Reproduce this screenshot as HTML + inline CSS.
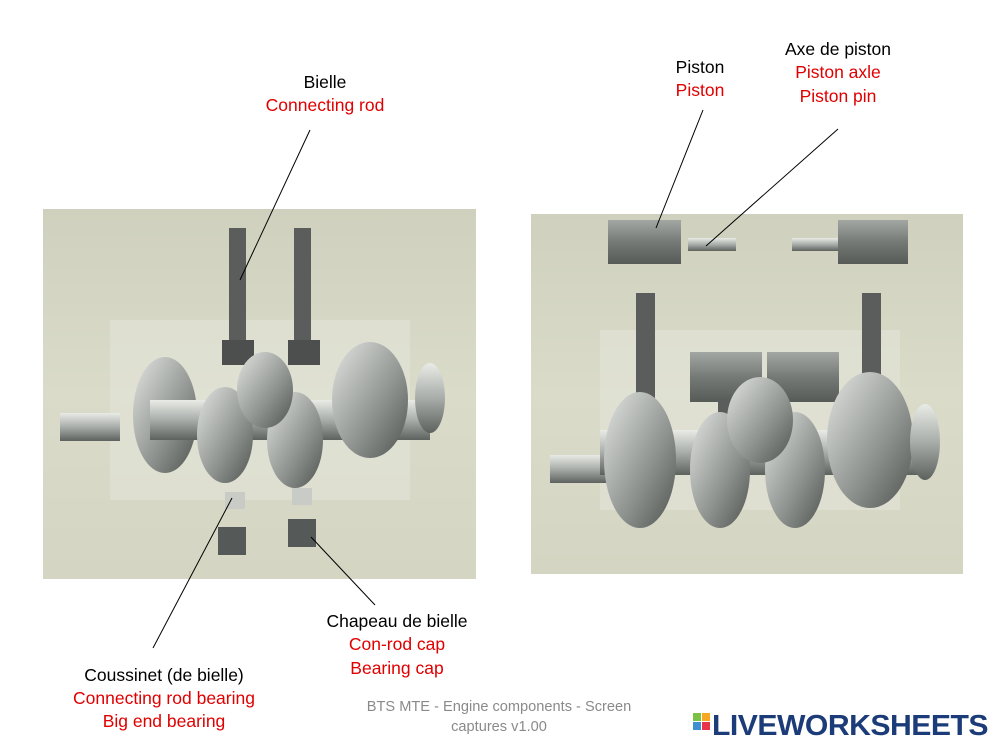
<!DOCTYPE html>
<html><head><meta charset="utf-8"><style>
html,body{margin:0;padding:0;background:#fff;}
svg{display:block;}
text{font-family:"Liberation Sans",sans-serif;font-size:17.5px;}
</style></head><body>
<svg width="1000" height="750" viewBox="0 0 1000 750" xmlns="http://www.w3.org/2000/svg">
<defs>
<linearGradient id="bg" x1="0" y1="0" x2="0" y2="1"><stop offset="0" stop-color="#cfd1be"/><stop offset="0.5" stop-color="#dadbc9"/><stop offset="1" stop-color="#d4d5c2"/></linearGradient>
<linearGradient id="metal" x1="0" y1="0" x2="0" y2="1"><stop offset="0" stop-color="#e8ebe6"/><stop offset="0.5" stop-color="#a9ada9"/><stop offset="1" stop-color="#5e625f"/></linearGradient>
<linearGradient id="web" x1="0" y1="0" x2="1" y2="1"><stop offset="0" stop-color="#e2e5e2"/><stop offset="0.6" stop-color="#8d918e"/><stop offset="1" stop-color="#4f5350"/></linearGradient>
<linearGradient id="pist" x1="0" y1="0" x2="0" y2="1"><stop offset="0" stop-color="#a3a7a3"/><stop offset="0.5" stop-color="#767a76"/><stop offset="1" stop-color="#575b58"/></linearGradient>
</defs>
<rect x="43" y="209" width="433" height="370" fill="url(#bg)"/>
<rect x="110" y="320" width="300" height="180" fill="#e3e4d8" opacity="0.6"/>
<rect x="229" y="228" width="17" height="125" fill="#5a5d5b"/>
<rect x="222" y="340" width="32" height="25" fill="#4c4f4d"/>
<rect x="294" y="228" width="17" height="125" fill="#5a5d5b"/>
<rect x="288" y="340" width="32" height="25" fill="#4c4f4d"/>
<rect x="60" y="413" width="60" height="28" fill="url(#metal)"/>
<ellipse cx="165" cy="415" rx="32" ry="58" fill="url(#web)"/>
<rect x="150" y="400" width="280" height="40" fill="url(#metal)"/>
<ellipse cx="225" cy="435" rx="28" ry="48" fill="url(#web)"/>
<ellipse cx="295" cy="440" rx="28" ry="48" fill="url(#web)"/>
<ellipse cx="265" cy="390" rx="28" ry="38" fill="url(#web)"/>
<ellipse cx="370" cy="400" rx="38" ry="58" fill="url(#web)"/>
<ellipse cx="430" cy="398" rx="15" ry="35" fill="url(#metal)"/>
<rect x="225" y="492" width="20" height="17" fill="#c8cbc6"/>
<rect x="292" y="488" width="20" height="17" fill="#c8cbc6"/>
<rect x="218" y="527" width="28" height="28" fill="#555957"/>
<rect x="288" y="519" width="28" height="28" fill="#555957"/>
<rect x="531" y="214" width="432" height="360" fill="url(#bg)"/>
<rect x="600" y="330" width="300" height="180" fill="#e3e4d8" opacity="0.6"/>
<rect x="608" y="220" width="73" height="44" fill="url(#pist)"/>
<rect x="688" y="238" width="48" height="13" fill="url(#metal)"/>
<rect x="792" y="238" width="48" height="13" fill="url(#metal)"/>
<rect x="838" y="220" width="70" height="44" fill="url(#pist)"/>
<rect x="690" y="352" width="72" height="50" fill="url(#pist)"/>
<rect x="767" y="352" width="72" height="50" fill="url(#pist)"/>
<rect x="636" y="293" width="19" height="150" fill="#5a5d5b"/>
<rect x="862" y="293" width="19" height="150" fill="#5a5d5b"/>
<rect x="718" y="400" width="16" height="70" fill="#5a5d5b"/>
<rect x="550" y="455" width="60" height="28" fill="url(#metal)"/>
<rect x="600" y="430" width="320" height="45" fill="url(#metal)"/>
<ellipse cx="640" cy="460" rx="36" ry="68" fill="url(#web)"/>
<ellipse cx="720" cy="470" rx="30" ry="58" fill="url(#web)"/>
<ellipse cx="795" cy="470" rx="30" ry="58" fill="url(#web)"/>
<ellipse cx="760" cy="420" rx="33" ry="43" fill="url(#web)"/>
<ellipse cx="870" cy="440" rx="43" ry="68" fill="url(#web)"/>
<ellipse cx="925" cy="442" rx="15" ry="38" fill="url(#metal)"/>
<g stroke="#000" stroke-width="1">
<line x1="310" y1="130" x2="240" y2="280"/>
<line x1="153" y1="648" x2="232" y2="498"/>
<line x1="375" y1="605" x2="311" y2="537"/>
<line x1="703" y1="110" x2="656" y2="228"/>
<line x1="838" y1="129" x2="706" y2="246"/>
</g>
<g text-anchor="middle">
<text x="325" y="88" fill="#000">Bielle</text>
<text x="325" y="111" fill="#e00000">Connecting rod</text>
<text x="700" y="73" fill="#000">Piston</text>
<text x="700" y="96" fill="#e00000">Piston</text>
<text x="838" y="55" fill="#000">Axe de piston</text>
<text x="838" y="78" fill="#e00000">Piston axle</text>
<text x="838" y="102" fill="#e00000">Piston pin</text>
<text x="397" y="627" fill="#000">Chapeau de bielle</text>
<text x="397" y="650" fill="#e00000">Con-rod cap</text>
<text x="397" y="674" fill="#e00000">Bearing cap</text>
<text x="164" y="681" fill="#000">Coussinet (de bielle)</text>
<text x="164" y="704" fill="#e00000">Connecting rod bearing</text>
<text x="164" y="727" fill="#e00000">Big end bearing</text>
<text x="499" y="711" fill="#8a8a8a" style="font-size:14.6px">BTS MTE - Engine components - Screen</text>
<text x="499" y="731" fill="#8a8a8a" style="font-size:14.6px">captures v1.00</text>
</g>
<rect x="693" y="713" width="8" height="8" fill="#7cc242"/>
<rect x="702" y="713" width="8" height="8" fill="#f7a823"/>
<rect x="693" y="722" width="8" height="8" fill="#3f8fd2"/>
<rect x="702" y="722" width="8" height="8" fill="#e8334a"/>
<text x="712" y="735" fill="#1b3c78" style="font-size:29px;font-weight:bold;letter-spacing:-0.5px" textLength="276" lengthAdjust="spacingAndGlyphs">LIVEWORKSHEETS</text>
</svg>
</body></html>
